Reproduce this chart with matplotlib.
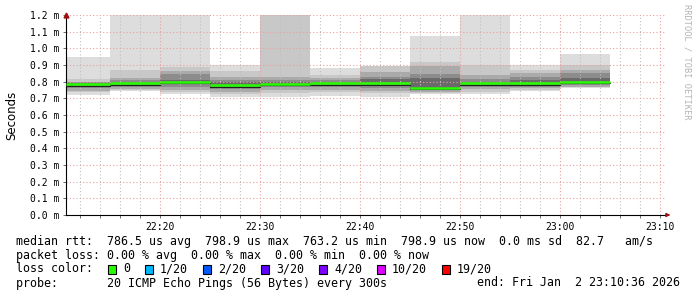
import matplotlib
matplotlib.use("Agg")
import matplotlib.pyplot as plt
from matplotlib.patches import Rectangle

# ==========================================
# DATA (minutes after 22:00, values in ms)
# ==========================================

# each step ends at this time and covers the 5 minutes before it
step_end = [15, 20, 25, 30, 35, 40, 45, 50, 55, 60, 65]
step_len = 5

ping_min = [0.720, 0.745, 0.726, 0.710, 0.710, 0.716, 0.710, 0.724, 0.728, 0.746, 0.764]
ping_q05 = [0.735, 0.750, 0.735, 0.725, 0.730, 0.735, 0.730, 0.730, 0.740, 0.750, 0.766]
ping_q15 = [0.745, 0.755, 0.750, 0.740, 0.750, 0.750, 0.745, 0.738, 0.755, 0.760, 0.770]
ping_q30 = [0.760, 0.765, 0.770, 0.755, 0.765, 0.765, 0.760, 0.748, 0.770, 0.770, 0.778]
ping_q40 = [0.770, 0.775, 0.785, 0.765, 0.775, 0.775, 0.774, 0.755, 0.780, 0.780, 0.785]
ping_med = [0.784, 0.790, 0.798, 0.778, 0.785, 0.790, 0.790, 0.763, 0.790, 0.790, 0.799]
ping_q60 = [0.790, 0.800, 0.810, 0.795, 0.800, 0.800, 0.814, 0.820, 0.800, 0.810, 0.824]
ping_q70 = [0.795, 0.810, 0.845, 0.810, 0.810, 0.810, 0.830, 0.846, 0.816, 0.830, 0.850]
ping_q85 = [0.800, 0.820, 0.866, 0.830, 0.830, 0.820, 0.860, 0.894, 0.840, 0.850, 0.870]
ping_q95 = [0.815, 0.870, 0.890, 0.866, 1.300, 0.840, 0.894, 0.920, 0.900, 0.870, 0.900]
ping_max = [0.950, 1.300, 1.300, 0.900, 1.300, 0.880, 0.894, 1.074, 1.300, 0.900, 0.964]
# second highest sample
ping_top = [0.950, 1.300, 1.300, 0.900, 1.300, 0.880, 0.894, 1.074, 1.300, 0.900, 0.944]

x_ticks = [20, 30, 40, 50, 60, 70]
x_labels = ["22:20", "22:30", "22:40", "22:50", "23:00", "23:10"]
y_ticks = [0.0, 0.1, 0.2, 0.3, 0.4, 0.5, 0.6, 0.7, 0.8, 0.9, 1.0, 1.1, 1.2]

x_start = 10.6   # 22:10:36
x_end = 70.6     # 23:10:36

loss_labels = ["0", "1/20", "2/20", "3/20", "4/20", "10/20", "19/20"]
loss_colors = ["#26ff00", "#00b8ff", "#0059ff", "#5e00ff", "#7e00ff", "#dd00ff", "#ff0000"]

stats_rtt = "median rtt:  786.5 us avg  798.9 us max  763.2 us min  798.9 us now  0.0 ms sd  82.7   am/s"
stats_loss = "packet loss: 0.00 % avg  0.00 % max  0.00 % min  0.00 % now"
probe_text = "probe:       20 ICMP Echo Pings (56 Bytes) every 300s"
end_text = "end: Fri Jan  2 23:10:36 2026"

# ==========================================
# FIGURE
# ==========================================

W, H = 697, 297
fig = plt.figure(figsize=(W / 100, H / 100), dpi=100)
fig.patch.set_facecolor("white")

ax = fig.add_axes([66 / W, (H - 215) / H, 600 / W, 200 / H])
ax.set_xlim(x_start, x_end)
ax.set_ylim(0, 1.2)

# grid (drawn over the smoke, like rrdtool)
for m in range(12, 71, 2):
    if m % 10 == 0:
        continue
    ax.axvline(m, color="#c0c0c0", lw=0.8, ls=(0, (1, 2)), zorder=2)
for m in x_ticks:
    ax.axvline(m, color="#e8a0a0", lw=0.8, ls=(0, (1, 2)), zorder=2)
for v in y_ticks[1:]:
    ax.axhline(v, color="#e8a0a0", lw=0.8, ls=(0, (1, 2)), zorder=2)

# smoke
bands = [
    (ping_min, ping_max, "#dddddd"),
    (ping_q05, ping_top, "#dddddd"),
    (ping_q05, ping_q95, "#c8c8c8"),
    (ping_q15, ping_q85, "#aaaaaa"),
    (ping_q30, ping_q70, "#8c8c8c"),
    (ping_q40, ping_q60, "#6a6a6a"),
]
for i, t in enumerate(step_end):
    left = max(t - step_len, x_start)
    for lo, hi, col in bands:
        ax.fill_between([left, t], lo[i], hi[i], color=col, lw=0, zorder=1)
    ax.plot([left, t], [ping_med[i] - 0.008, ping_med[i] - 0.008],
            color="#202020", lw=0.8, zorder=3)
    ax.plot([left, t], [ping_med[i], ping_med[i]],
            color=loss_colors[0], lw=1.8, zorder=4, solid_capstyle="butt")

# axes look
for s in ["top", "right"]:
    ax.spines[s].set_visible(False)
ax.spines["left"].set_color("#000000")
ax.spines["bottom"].set_color("#000000")
ax.spines["left"].set_linewidth(0.8)
ax.spines["bottom"].set_linewidth(0.8)

ax.set_xticks(x_ticks)
ax.set_xticklabels(x_labels)
ax.set_xticks(range(12, 71, 2), minor=True)
ax.set_yticks(y_ticks)
ax.set_yticklabels(["%.1f m" % v for v in y_ticks])
ax.tick_params(axis="both", which="major", length=2, width=0.6, color="#555555",
               labelsize=7, pad=3)
ax.tick_params(axis="x", which="minor", length=2, width=0.6, color="#555555")
for lab in ax.get_xticklabels() + ax.get_yticklabels():
    lab.set_family("DejaVu Sans Mono")

ax.set_ylabel("Seconds", fontsize=8.5, labelpad=8)

# arrows
ax.plot([x_start], [1.2], marker="^", color="#a01010", ms=3.5,
        clip_on=False, zorder=5)
ax.annotate("", xy=(1.012, 0), xycoords="axes fraction", xytext=(0.995, 0),
            arrowprops=dict(arrowstyle="-|>", color="#a01010", lw=0.8,
                            mutation_scale=6))

# watermark
fig.text(687 / W, 1 - 4 / H, "RRDTOOL / TOBI OETIKER", rotation=270,
         fontsize=6.2, color="#b4b4b4", family="DejaVu Sans Mono",
         ha="center", va="top")

# ==========================================
# LEGEND TEXT
# ==========================================

mono = dict(family="DejaVu Sans Mono", fontsize=8.4, va="center", color="#000000")
fig.text(16 / W, 1 - 241 / H, stats_rtt, **mono)
fig.text(16 / W, 1 - 255 / H, stats_loss, **mono)
fig.text(16 / W, 1 - 269 / H, "loss color:", **mono)
fig.text(16 / W, 1 - 283 / H, probe_text, **mono)
fig.text(680 / W, 1 - 283 / H, end_text, ha="right", **mono)

cursor = 108
for lab, col in zip(loss_labels, loss_colors):
    fig.patches.append(Rectangle((cursor / W, 1 - 273.5 / H), 8 / W, 9 / H,
                                 transform=fig.transFigure, facecolor=col,
                                 edgecolor="#000000", lw=0.8))
    fig.text((cursor + 15) / W, 1 - 269 / H, lab, **mono)
    cursor = cursor + 15 + 7 * len(lab) + 15

fig.savefig("out.png", dpi=100)
